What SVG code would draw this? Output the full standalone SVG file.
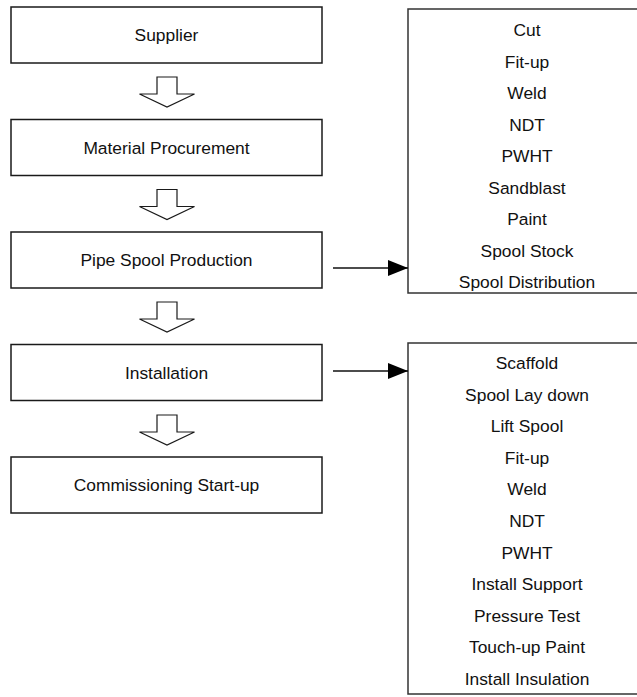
<svg xmlns="http://www.w3.org/2000/svg" width="637" height="697" viewBox="0 0 637 697">
<style>
.box{fill:#fff;stroke:#1a1a1a;stroke-width:1.5}
.rbox{fill:#fff;stroke:#333;stroke-width:1.5}
.blk{fill:#fff;stroke:#1a1a1a;stroke-width:1.2;stroke-linejoin:miter}
.t{font-family:"Liberation Sans",Arial,sans-serif;font-size:17.4px;fill:#111;text-anchor:middle}
.conn{stroke:#111;stroke-width:1.3;fill:none}
</style>
<defs>
<marker id="ah" viewBox="0 0 20 16" refX="20" refY="8" markerWidth="20" markerHeight="16" markerUnits="userSpaceOnUse" orient="auto">
<path d="M0,0 L20,8 L0,16 Z" fill="#000"/>
</marker>
<path id="blkarrow" d="M-10,0 H10 V17 H27.5 L0,30 L-27.5,17 H-10 Z"/>
</defs>
<rect width="637" height="697" fill="#fff"/>
<g id="supplier"><rect class="box" x="11" y="7" width="311" height="56"/><text class="t" x="166.5" y="41">Supplier</text></g>
<g id="material"><rect class="box" x="11" y="119.5" width="311" height="56"/><text class="t" x="166.5" y="153.5">Material Procurement</text></g>
<g id="pipespool"><rect class="box" x="11" y="232" width="311" height="56"/><text class="t" x="166.5" y="266">Pipe Spool Production</text></g>
<g id="installation"><rect class="box" x="11" y="344.5" width="311" height="56"/><text class="t" x="166.5" y="378.5">Installation</text></g>
<g id="commissioning"><rect class="box" x="11" y="457" width="311" height="56"/><text class="t" x="166.5" y="491">Commissioning Start-up</text></g>
<g id="production-steps">
<rect class="rbox" x="408" y="9" width="240" height="284"/>
<text class="t" x="527" y="36">Cut</text>
<text class="t" x="527" y="67.5">Fit-up</text>
<text class="t" x="527" y="99">Weld</text>
<text class="t" x="527" y="130.5">NDT</text>
<text class="t" x="527" y="162">PWHT</text>
<text class="t" x="527" y="193.5">Sandblast</text>
<text class="t" x="527" y="225">Paint</text>
<text class="t" x="527" y="256.5">Spool Stock</text>
<text class="t" x="527" y="288">Spool Distribution</text>
</g>
<g id="installation-steps">
<rect class="rbox" x="408" y="343" width="240" height="351"/>
<text class="t" x="527" y="369">Scaffold</text>
<text class="t" x="527" y="400.6">Spool Lay down</text>
<text class="t" x="527" y="432.2">Lift Spool</text>
<text class="t" x="527" y="463.8">Fit-up</text>
<text class="t" x="527" y="495.4">Weld</text>
<text class="t" x="527" y="527">NDT</text>
<text class="t" x="527" y="558.6">PWHT</text>
<text class="t" x="527" y="590.2">Install Support</text>
<text class="t" x="527" y="621.8">Pressure Test</text>
<text class="t" x="527" y="653.4">Touch-up Paint</text>
<text class="t" x="527" y="685">Install Insulation</text>
</g>
<g id="connectors">
<use href="#blkarrow" class="blk" x="167" y="77"/>
<use href="#blkarrow" class="blk" x="167" y="189.5"/>
<use href="#blkarrow" class="blk" x="167" y="302"/>
<use href="#blkarrow" class="blk" x="167" y="415"/>
<line class="conn" x1="333" y1="268" x2="408" y2="268" marker-end="url(#ah)"/>
<line class="conn" x1="333" y1="371" x2="408" y2="371" marker-end="url(#ah)"/>
</g>
</svg>
